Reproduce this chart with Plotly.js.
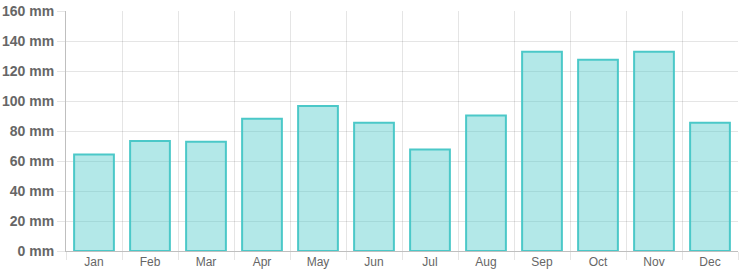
<!DOCTYPE html>
<html>
<head>
<meta charset="utf-8">
<script src="https://cdn.plot.ly/plotly-3.0.1.min.js"></script>
<style>html,body{margin:0;padding:0;background:#fff;}#chart{width:740px;height:280px;}</style>
</head>
<body>
<div id="chart"></div>
<script>
const months = ["Jan","Feb","Mar","Apr","May","Jun","Jul","Aug","Sep","Oct","Nov","Dec"];
const rainfall = [64.3, 73.3, 72.9, 88.2, 96.7, 85.5, 67.6, 90.4, 132.9, 127.5, 132.9, 85.5];
const yTicks = [0, 20, 40, 60, 80, 100, 120, 140, 160];

const trace = {
  type: "bar",
  x: months,
  y: rainfall,
  width: 0.71,
  marker: {
    color: "rgba(75,200,200,0.42)",
    line: { color: "rgb(75,200,200)", width: 2 }
  },
  hoverinfo: "none"
};

const layout = {
  width: 740,
  height: 280,
  margin: { l: 66, r: 2, t: 11, b: 29, pad: 0 },
  paper_bgcolor: "#fff",
  plot_bgcolor: "#fff",
  showlegend: false,
  bargap: 0.29,
  xaxis: {
    type: "category",
    tickson: "boundaries",
    ticks: "outside",
    ticklen: 8,
    tickcolor: "rgba(0,0,0,0.1)",
    showgrid: true,
    gridcolor: "rgba(0,0,0,0.1)",
    gridwidth: 1,
    showline: true,
    linecolor: "rgba(0,0,0,0.25)",
    linewidth: 1,
    tickfont: { family: "Liberation Sans, Arial, sans-serif", size: 12, color: "#666" },
    fixedrange: true
  },
  yaxis: {
    range: [0, 160],
    tickvals: yTicks,
    ticktext: yTicks.map(v => v + " mm"),
    ticks: "outside",
    ticklen: 8,
    tickcolor: "rgba(0,0,0,0.1)",
    showgrid: true,
    gridcolor: "rgba(0,0,0,0.1)",
    gridwidth: 1,
    zeroline: false,
    showline: true,
    linecolor: "rgba(0,0,0,0.25)",
    linewidth: 1,
    tickfont: { family: "Liberation Sans, Arial, sans-serif", size: 14, color: "#666", weight: "bold" },
    fixedrange: true
  }
};

Plotly.newPlot("chart", [trace], layout, { displayModeBar: false, staticPlot: true });
</script>
</body>
</html>
